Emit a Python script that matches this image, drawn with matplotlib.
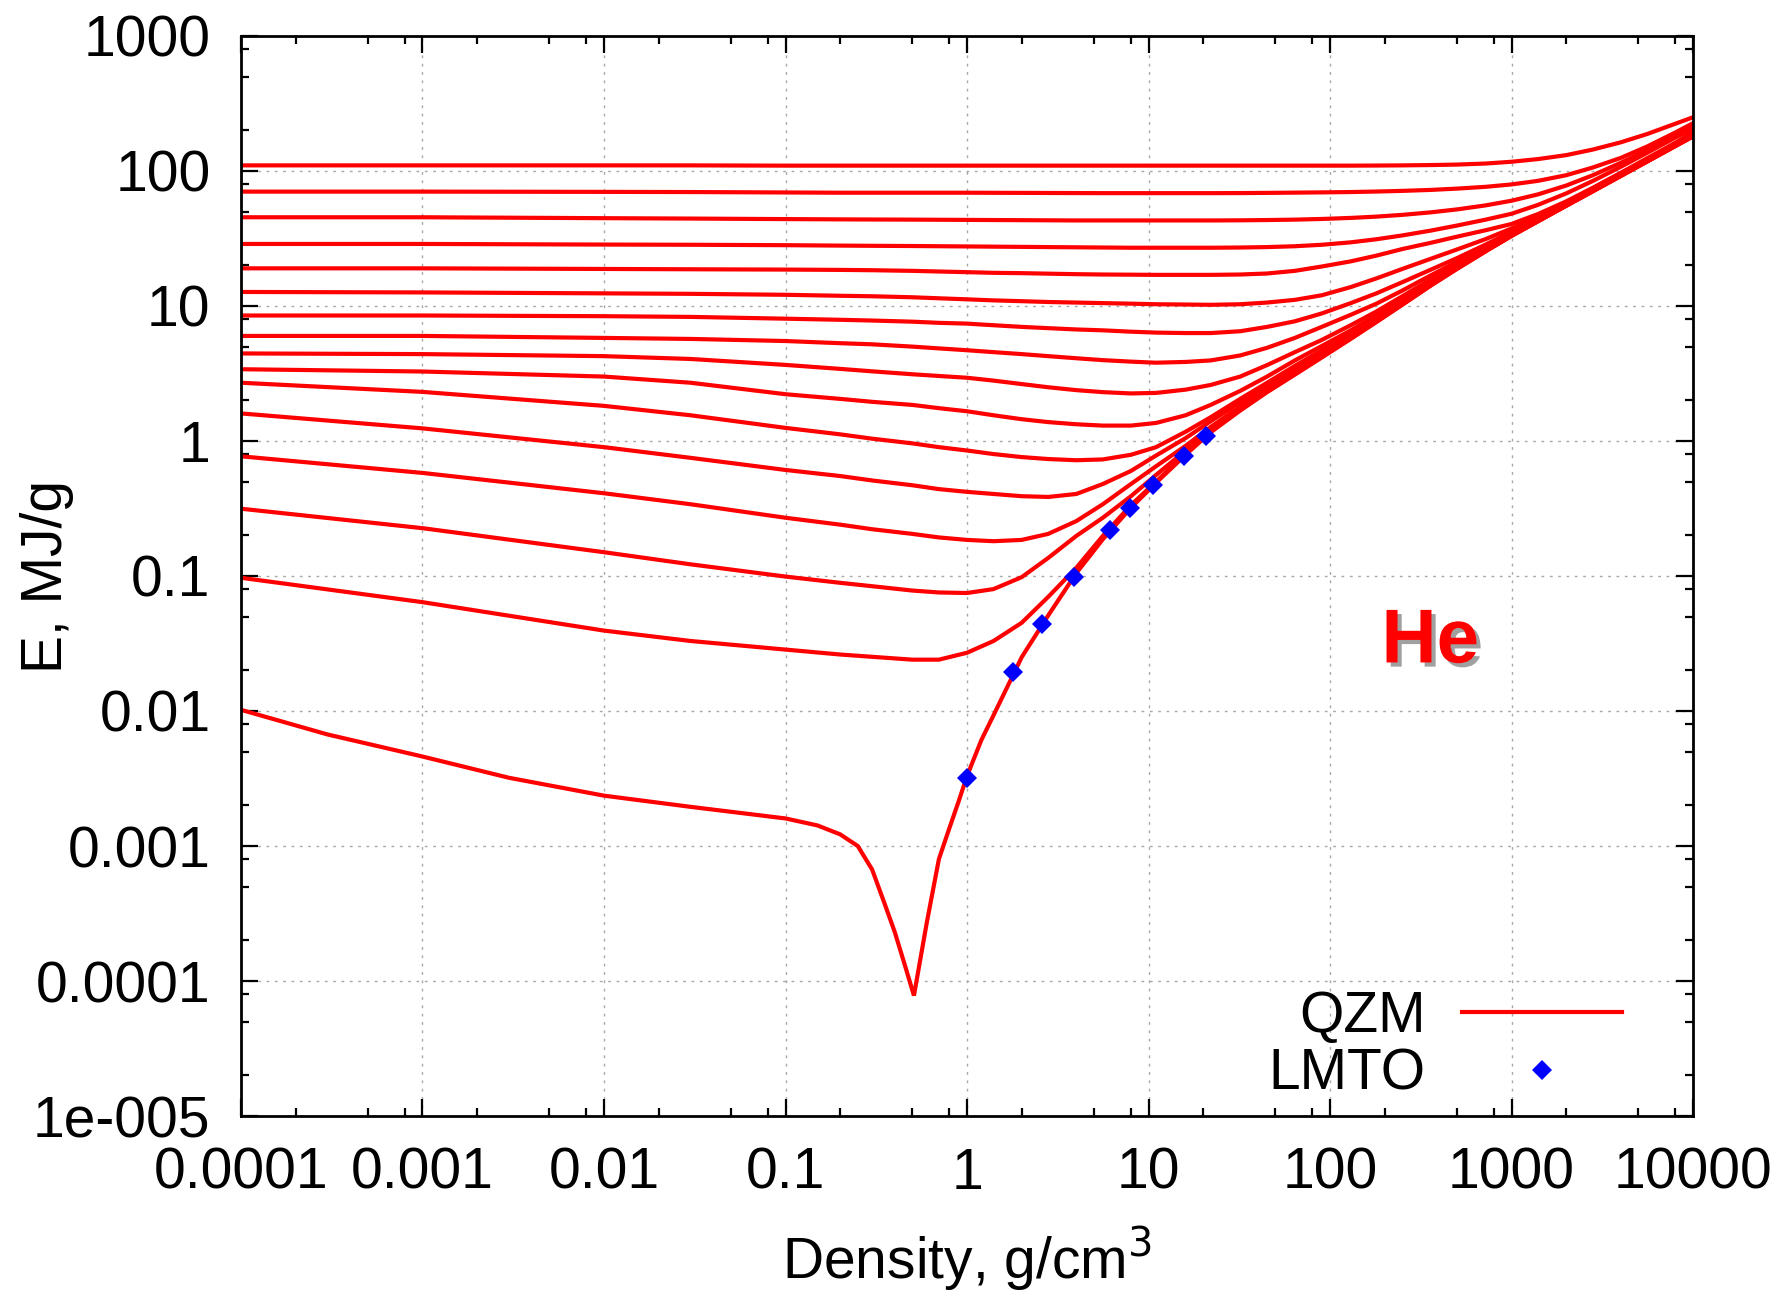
import matplotlib
matplotlib.use('Agg')
import matplotlib.pyplot as plt
import matplotlib.patheffects as pe
from matplotlib.ticker import FixedLocator, FixedFormatter, LogLocator, NullFormatter

plt.rcParams['font.family'] = ['Liberation Sans', 'DejaVu Sans']

# density grid shared by the isotherms, g/cm3
rho = [1e-4, 1e-3, 1e-2, 0.03, 0.1, 0.2, 0.3, 0.5, 0.7, 1, 1.4, 2, 2.8, 4, 5.6, 8,
       11, 16, 22, 32, 45, 64, 90, 130, 180, 250, 360, 500, 720, 1000, 1400, 2000,
       2800, 4000, 5600, 8000, 1e4]

# isotherms E(rho), MJ/g, from the hottest to the coolest
iso_01 = [110, 110, 110, 110, 109.5, 109.5, 109.5, 109.5, 109.5, 109.5, 109.5, 109.5,
          109.5, 109.5, 109.5, 109.5, 109.5, 109.5, 109.5, 109.5, 109.5, 109.5, 109.5,
          109.5, 109.7, 110, 110.6, 111.5, 113.5, 117, 122.5, 131, 144, 163, 188, 224, 250]
iso_02 = [70.3, 70.3, 70, 69.8, 69.3, 69, 69, 69, 69, 69, 68.9, 68.8, 68.7, 68.6, 68.5,
          68.5, 68.5, 68.5, 68.5, 68.6, 68.8, 69.1, 69.4, 69.8, 70.4, 71.2, 72.4, 74,
          76.3, 79.5, 84.5, 93, 106, 125, 152, 193, 226]
iso_03 = [45.4, 45.4, 44.7, 44.4, 44, 43.8, 43.7, 43.6, 43.5, 43.4, 43.3, 43.2, 43.1, 43,
          43, 43, 43, 43, 43, 43.1, 43.3, 43.6, 44.1, 44.9, 45.9, 47.3, 49.4, 51.9, 55.6,
          60.2, 67.1, 78, 92.9, 115, 143, 182, 213]
iso_04 = [28.8, 28.8, 28.5, 28.4, 28.2, 28.0, 27.9, 27.8, 27.7, 27.6, 27.5, 27.4, 27.3,
          27.2, 27.1, 27.0, 27.0, 27.0, 27.0, 27.1, 27.3, 27.7, 28.4, 29.6, 31.2, 33.3,
          36.2, 39.4, 43.6, 48.2, 56.1, 68.2, 84.3, 107.4, 136.5, 177, 207]
iso_05 = [19.0, 19.0, 18.8, 18.7, 18.6, 18.5, 18.4, 18.2, 18.0, 17.8, 17.6, 17.5, 17.35,
          17.2, 17.1, 17.05, 17.0, 17.0, 17.0, 17.1, 17.4, 18.2, 19.6, 21.4, 23.6, 26.4,
          29.4, 32.6, 36.4, 40.5, 48, 59.5, 75, 97, 124.5, 162, 195]
iso_06 = [12.7, 12.6, 12.4, 12.3, 12.1, 11.9, 11.8, 11.6, 11.4, 11.2, 11.0, 10.85, 10.7,
          10.6, 10.5, 10.4, 10.3, 10.25, 10.2, 10.3, 10.6, 11.1, 12.0, 13.8, 16.0, 18.8,
          22.4, 26.2, 31.3, 37.5, 46.3, 58.6, 74.2, 96, 122.5, 159, 189]
iso_07 = [8.5, 8.5, 8.4, 8.3, 8.05, 7.9, 7.8, 7.65, 7.5, 7.4, 7.2, 7.0, 6.85, 6.7, 6.6,
          6.45, 6.35, 6.3, 6.3, 6.5, 7.0, 7.7, 8.8, 10.5, 12.4, 15.0, 18.6, 22.6, 28.5,
          35.5, 44.6, 57.6, 73.3, 95, 121.3, 157.5, 186]
iso_08 = [6.0, 6.0, 5.8, 5.7, 5.5, 5.3, 5.2, 5.0, 4.85, 4.7, 4.55, 4.4, 4.25, 4.1, 3.97,
          3.87, 3.8, 3.85, 3.95, 4.3, 4.9, 5.8, 7.0, 8.6, 10.4, 13.0, 16.9, 21.2, 27.7,
          34.7, 43.9, 57, 72.7, 94.4, 120.6, 156.6, 184.5]
iso_09 = [4.45, 4.4, 4.25, 4.05, 3.66, 3.42, 3.28, 3.12, 3.03, 2.94, 2.8, 2.64, 2.5,
          2.38, 2.3, 2.25, 2.27, 2.4, 2.6, 3.0, 3.65, 4.55, 5.6, 7.2, 9.1, 11.8, 15.8,
          20.3, 26.9, 34.2, 43.5, 56.6, 72.3, 94, 120.2, 156.2, 184]
iso_10 = [3.4, 3.27, 3.0, 2.7, 2.22, 2.05, 1.95, 1.85, 1.75, 1.66, 1.55, 1.45, 1.38,
          1.33, 1.30, 1.30, 1.36, 1.55, 1.85, 2.35, 3.0, 3.95, 5.05, 6.6, 8.55, 11.2,
          15.2, 19.8, 26.4, 33.9, 43.2, 56.2, 71.8, 93.4, 119.6, 155.5, 183]
iso_11 = [2.7, 2.31, 1.82, 1.55, 1.25, 1.12, 1.04, 0.96, 0.9, 0.85, 0.8, 0.76, 0.735,
          0.72, 0.73, 0.79, 0.9, 1.17, 1.5, 2.05, 2.7, 3.6, 4.7, 6.3, 8.2, 10.85, 14.85,
          19.5, 26.1, 33.7, 43, 56, 71.5, 93, 119, 155, 182.5]
iso_12 = [1.6, 1.24, 0.90, 0.75, 0.61, 0.55, 0.51, 0.47, 0.44, 0.42, 0.405, 0.39, 0.385,
          0.405, 0.48, 0.6, 0.78, 1.05, 1.4, 1.93, 2.55, 3.4, 4.5, 6.1, 8.0, 10.6, 14.6,
          19.25, 25.85, 33.5, 42.85, 55.8, 71.3, 92.7, 118.7, 154.6, 182]
iso_13 = [0.77, 0.58, 0.41, 0.34, 0.27, 0.24, 0.222, 0.205, 0.193, 0.185, 0.181, 0.185,
          0.205, 0.255, 0.34, 0.48, 0.65, 0.92, 1.27, 1.8, 2.42, 3.25, 4.35, 5.92, 7.83,
          10.45, 14.45, 19.1, 25.7, 33.35, 42.7, 55.6, 71.1, 92.4, 118.4, 154.2, 181.5]
iso_14 = [0.315, 0.226, 0.150, 0.122, 0.099, 0.089, 0.084, 0.078, 0.0755, 0.0748, 0.08,
          0.098, 0.136, 0.198, 0.27, 0.39, 0.56, 0.85, 1.22, 1.74, 2.36, 3.18, 4.26,
          5.82, 7.72, 10.33, 14.33, 18.95, 25.55, 33.2, 42.55, 55.4, 70.9, 92.1, 118.1,
          153.6, 181]
iso_15 = [0.097, 0.064, 0.0394, 0.033, 0.0285, 0.0262, 0.0252, 0.024, 0.024, 0.027,
          0.033, 0.045, 0.07, 0.115, 0.198, 0.335, 0.50, 0.81, 1.18, 1.7, 2.32, 3.13,
          4.2, 5.75, 7.65, 10.25, 14.25, 18.87, 25.47, 33.1, 42.5, 55.3, 70.7, 91.9,
          117.8, 153.2, 180.5]
isotherms = [iso_01, iso_02, iso_03, iso_04, iso_05, iso_06, iso_07, iso_08,
             iso_09, iso_10, iso_11, iso_12, iso_13, iso_14, iso_15]

# coldest isotherm, with the dip near 0.5 g/cm3
rho_cold = [1e-4, 3e-4, 1e-3, 3e-3, 0.01, 0.03, 0.1, 0.15, 0.2, 0.25, 0.3, 0.35, 0.4,
            0.45, 0.51, 0.6, 0.7, 0.8, 0.9, 1, 1.2, 1.4, 2, 2.8, 4, 5.6, 8, 11, 16, 22,
            32, 45, 64, 90, 130, 180, 250, 360, 500, 720, 1000, 1400, 2000, 2800, 4000,
            5600, 8000, 1e4]
e_cold = [0.0102, 0.0067, 0.0046, 0.0032, 0.00236, 0.00195, 0.0016, 0.00142, 0.00122,
          0.001, 0.00067, 0.00038, 0.00023, 0.000137, 7.8e-5, 0.00027, 0.0008, 0.00136,
          0.00215, 0.0033, 0.0061, 0.0093, 0.025, 0.051, 0.105, 0.187, 0.32, 0.49, 0.79,
          1.16, 1.68, 2.3, 3.1, 4.15, 5.7, 7.6, 10.2, 14.2, 18.8, 25.4, 33, 42.4, 55.2,
          70.6, 91.8, 117.7, 153, 180]

# LMTO points
rho_lmto = [1.0, 1.8, 2.6, 3.9, 6.1, 7.9, 10.6, 15.6, 20.6]
e_lmto = [0.0032, 0.0196, 0.044, 0.098, 0.218, 0.32, 0.47, 0.77, 1.09]

x_ticks = [1e-4, 1e-3, 1e-2, 0.1, 1, 10, 100, 1000, 1e4]
x_labels = ['0.0001', '0.001', '0.01', '0.1', '1', '10', '100', '1000', '10000']
y_ticks = [1e-5, 1e-4, 1e-3, 1e-2, 0.1, 1, 10, 100, 1000]
y_labels = ['1e-005', '0.0001', '0.001', '0.01', '0.1', '1', '10', '100', '1000']

FONT = 41
RED = '#ff0000'
LW = 3.0

fig = plt.figure(figsize=(17.85, 12.98), dpi=100)
ax = fig.add_axes([0.135, 0.1402, 0.8135, 0.8321])

for e in isotherms:
    ax.plot(rho, e, color=RED, lw=LW, solid_joinstyle='round')
ax.plot(rho_cold, e_cold, color=RED, lw=LW, solid_joinstyle='miter')
ax.plot(rho_lmto, e_lmto, linestyle='none', marker='D', ms=10, color='#0000ff',
        markeredgewidth=0)

ax.set_xscale('log')
ax.set_yscale('log')
ax.set_xlim(1e-4, 1e4)
ax.set_ylim(1e-5, 1e3)

ax.xaxis.set_major_locator(FixedLocator(x_ticks))
ax.xaxis.set_major_formatter(FixedFormatter(x_labels))
ax.yaxis.set_major_locator(FixedLocator(y_ticks))
ax.yaxis.set_major_formatter(FixedFormatter(y_labels))
ax.xaxis.set_minor_locator(LogLocator(base=10, subs=[2, 5, 8], numticks=20))
ax.yaxis.set_minor_locator(LogLocator(base=10, subs=[2, 5, 8], numticks=20))
ax.xaxis.set_minor_formatter(NullFormatter())
ax.yaxis.set_minor_formatter(NullFormatter())

ax.tick_params(which='both', direction='in', top=True, right=True, width=1.6,
               labelsize=FONT)
ax.tick_params(which='major', length=12)
ax.tick_params(which='minor', length=6)
ax.tick_params(axis='x', which='major', pad=22)
ax.tick_params(axis='y', which='major', pad=22)

ax.grid(True, which='major', color='#a8a8a8', linestyle=(0, (2, 4)), lw=1.0)
for s in ax.spines.values():
    s.set_linewidth(2.0)

ax.set_xlabel('Density, g/cm$^3$', fontsize=FONT, labelpad=17)
ax.set_ylabel('E, MJ/g', fontsize=FONT)
ax.yaxis.set_label_coords(-0.115, 0.5)

ax.text(0.819, 0.438, 'He', transform=ax.transAxes, fontsize=55, fontweight='bold',
        color=RED, ha='center', va='center',
        path_effects=[pe.SimplePatchShadow(offset=(3, -3), shadow_rgbFace='#888888',
                                           alpha=0.8), pe.Normal()])

qzm, = ax.plot([], [], color=RED, lw=LW)
lmto, = ax.plot([], [], linestyle='none', marker='D', ms=10, color='#0000ff',
                markeredgewidth=0)
leg1 = ax.legend([qzm], ['QZM'], loc='center right', bbox_to_anchor=(0.951, 0.092),
                 frameon=False, markerfirst=False, fontsize=FONT, handlelength=2.8,
                 handletextpad=0.65, borderpad=0, borderaxespad=0)
ax.add_artist(leg1)
ax.legend([lmto], ['LMTO'], loc='center right', bbox_to_anchor=(0.951, 0.038),
          frameon=False, markerfirst=False, fontsize=FONT, handlelength=2.8,
          handletextpad=0.65, borderpad=0, borderaxespad=0)

fig.savefig('out.png', dpi=100)
